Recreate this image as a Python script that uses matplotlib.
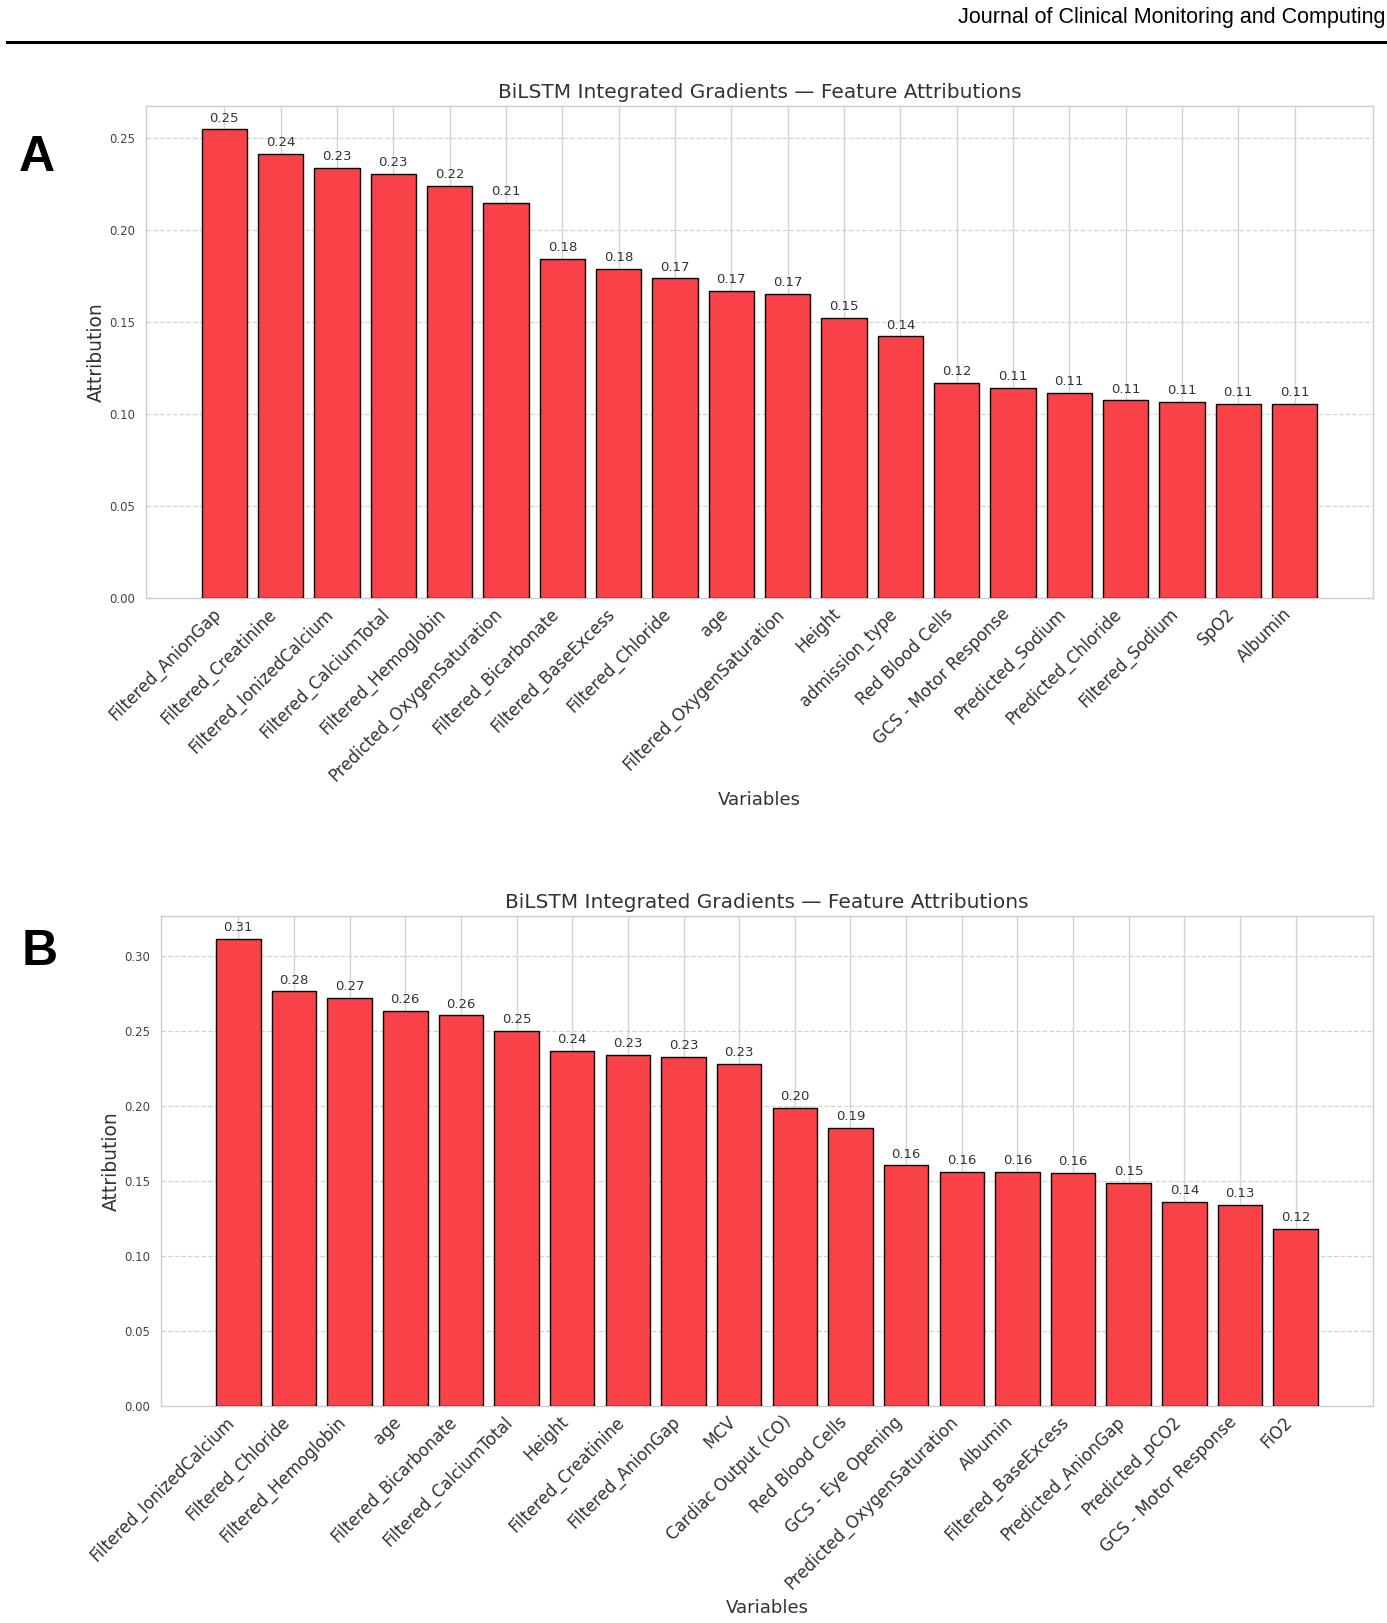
"""
Recreates the two-panel BiLSTM Integrated Gradients feature attribution figure.
"""
import matplotlib
matplotlib.use("Agg")
import matplotlib.pyplot as plt
from matplotlib.lines import Line2D

# Panel A data
FEATURES_A = [
    "Filtered_AnionGap", "Filtered_Creatinine", "Filtered_IonizedCalcium",
    "Filtered_CalciumTotal", "Filtered_Hemoglobin", "Predicted_OxygenSaturation",
    "Filtered_Bicarbonate", "Filtered_BaseExcess", "Filtered_Chloride", "age",
    "Filtered_OxygenSaturation", "Height", "admission_type", "Red Blood Cells",
    "GCS - Motor Response", "Predicted_Sodium", "Predicted_Chloride",
    "Filtered_Sodium", "SpO2", "Albumin",
]
VALUES_A = [
    0.2545, 0.2410, 0.2337, 0.2303, 0.2236, 0.2146, 0.1843, 0.1787, 0.1736,
    0.1669, 0.1652, 0.1522, 0.1421, 0.1169, 0.1140, 0.1112, 0.1073, 0.1067,
    0.1056, 0.1055,
]

# Panel B data
FEATURES_B = [
    "Filtered_IonizedCalcium", "Filtered_Chloride", "Filtered_Hemoglobin", "age",
    "Filtered_Bicarbonate", "Filtered_CalciumTotal", "Height", "Filtered_Creatinine",
    "Filtered_AnionGap", "MCV", "Cardiac Output (CO)", "Red Blood Cells",
    "GCS - Eye Opening", "Predicted_OxygenSaturation", "Albumin",
    "Filtered_BaseExcess", "Predicted_AnionGap", "Predicted_pCO2",
    "GCS - Motor Response", "FiO2",
]
VALUES_B = [
    0.3111, 0.2764, 0.2722, 0.2632, 0.2604, 0.2500, 0.2368, 0.2340, 0.2326,
    0.2278, 0.1986, 0.1855, 0.1604, 0.1563, 0.1562, 0.1556, 0.1486, 0.1361,
    0.1340, 0.1180,
]

TITLE = "BiLSTM Integrated Gradients \u2014 Feature Attributions"
HEADER = "Journal of Clinical Monitoring and Computing"

BAR_COLOR = "#F94247"
GRID_COLOR = "#d3d3d3"
TEXT_COLOR = "#333333"

W, H = 1387, 1623


def draw_panel(ax, features, values):
    x = range(len(features))
    bars = ax.bar(x, values, width=0.8, color=BAR_COLOR, edgecolor="black",
                  linewidth=1.0, zorder=3)
    for bar, v in zip(bars, values):
        ax.annotate(f"{v:.2f}", (bar.get_x() + bar.get_width() / 2, v),
                    xytext=(0, 3.5), textcoords="offset points",
                    ha="center", va="bottom", fontsize=9.5, color=TEXT_COLOR)

    ax.set_xticks(list(x))
    ax.set_xticklabels(features, rotation=45, ha="right", fontsize=12,
                       color=TEXT_COLOR)
    ax.tick_params(axis="x", length=0, pad=5)
    ax.tick_params(axis="y", length=0, pad=8, labelsize=8.5, labelcolor="#444444")

    ax.set_title(TITLE, fontsize=14.5, color=TEXT_COLOR, pad=6)
    ax.set_xlabel("Variables", fontsize=13, color=TEXT_COLOR)
    ax.set_ylabel("Attribution", fontsize=13.5, color=TEXT_COLOR, labelpad=2)

    ax.grid(axis="y", linestyle="--", color=GRID_COLOR, linewidth=0.9, zorder=0)
    ax.grid(axis="x", linestyle="-", color=GRID_COLOR, linewidth=1.0, zorder=0)
    ax.set_axisbelow(True)
    for spine in ax.spines.values():
        spine.set_color("#cccccc")
        spine.set_linewidth(1.0)


def main() -> None:
    fig = plt.figure(figsize=(W / 100, H / 100), dpi=100)

    ax_a = fig.add_axes([146 / W, 1 - 598 / H, (1373 - 146) / W, (598 - 106) / H])
    ax_b = fig.add_axes([161 / W, 1 - 1406 / H, (1373 - 161) / W, (1406 - 916) / H])

    draw_panel(ax_a, FEATURES_A, VALUES_A)
    draw_panel(ax_b, FEATURES_B, VALUES_B)

    # Journal header and rule
    fig.text(1385 / W, 1 - 18 / H, HEADER, ha="right", va="center", fontsize=15.5,
             family=["Liberation Sans", "DejaVu Sans"], color="black")
    fig.add_artist(Line2D([7 / W, 1386 / W], [1 - 42 / H, 1 - 42 / H],
                          color="black", linewidth=2.2,
                          transform=fig.transFigure))

    # Panel letters
    fig.text(19 / W, 1 - 158 / H, "A", ha="left", va="center", fontsize=36,
             fontweight="bold", family=["Liberation Sans", "DejaVu Sans"])
    fig.text(22 / W, 1 - 952 / H, "B", ha="left", va="center", fontsize=36,
             fontweight="bold", family=["Liberation Sans", "DejaVu Sans"])

    fig.savefig("out.png", dpi=100)


if __name__ == "__main__":
    main()
